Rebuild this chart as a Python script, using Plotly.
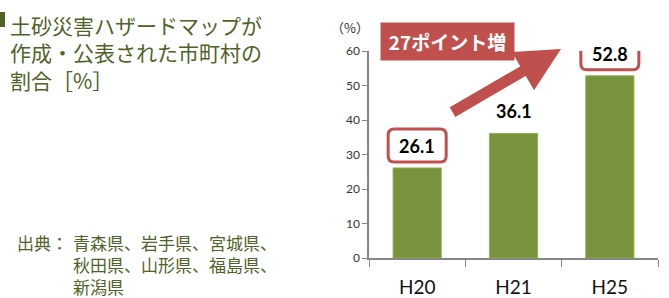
import plotly.graph_objects as go

categories = ["H20", "H21", "H25"]
values = [26.1, 36.1, 52.8]
value_labels = ["26.1", "36.1", "52.8"]
boxed = [True, False, True]
y_ticks = [0, 10, 20, 30, 40, 50, 60]

title_text = "土砂災害ハザードマップが<br>作成・公表された市町村の<br>割合［%］"
source_head = "出典："
source_lines = ["青森県、岩手県、宮城県、", "秋田県、山形県、福島県、", "新潟県"]
increase_text = "27ポイント増"
unit_text = "（%）"

W, H = 669, 298
GREEN = "#77933C"
RED = "#C0504D"
TXT = "#4F6228"

def px(x):
    return x / W

def py(y):
    return 1 - y / H

fig = go.Figure()
fig.add_trace(go.Bar(x=categories, y=values, marker=dict(color=GREEN, line=dict(color="#8FAE55", width=1)),
                     hoverinfo="skip"))

def rounded(x0, x1, y0, y1, r):
    return (f"M{x0+r},{y0} L{x1-r},{y0} Q{x1},{y0} {x1},{y0+r} L{x1},{y1-r} Q{x1},{y1} {x1-r},{y1} "
            f"L{x0+r},{y1} Q{x0},{y1} {x0},{y1-r} L{x0},{y0+r} Q{x0},{y0} {x0+r},{y0} Z")

for c, v, lab, b in zip(categories, values, value_labels, boxed):
    if b:
        fig.add_shape(type="path", xref="x", yref="y", xsizemode="pixel", ysizemode="pixel",
                      xanchor=c, yanchor=v, path=rounded(-29, 29, 6, 39, 6),
                      line=dict(color=RED, width=3), fillcolor="white", layer="above")
    fig.add_annotation(x=c, y=v, xref="x", yref="y", text=f"<b>{lab}</b>", showarrow=False,
                       yshift=22, font=dict(family="Lato", size=18, color="#000000"))

fig.add_annotation(x=px(447.5), y=py(41.5), xref="paper", yref="paper", text=f"<b>{increase_text}</b>",
                   showarrow=False, bgcolor=RED, width=131, height=35, xanchor="center", yanchor="middle",
                   font=dict(family="Noto Sans CJK JP", size=19, color="white"))
fig.add_annotation(x=px(561), y=py(49), xref="paper", yref="paper", text="", showarrow=True,
                   ax=-110, ay=64, axref="pixel", ayref="pixel", arrowcolor=RED, arrowwidth=11,
                   arrowhead=2, arrowsize=0.8, standoff=0)

fig.add_annotation(x=px(350), y=py(28), xref="paper", yref="paper", text=unit_text, showarrow=False,
                   yanchor="middle", font=dict(family="Noto Sans CJK JP", size=13, color="#333333"))

fig.add_shape(type="rect", xref="paper", yref="paper", x0=0, x1=px(5), y0=py(27), y1=py(12),
              fillcolor=TXT, line=dict(width=0))
fig.add_annotation(x=px(8), y=py(8), xref="paper", yref="paper", text=title_text, showarrow=False,
                   xanchor="left", yanchor="top", align="left",
                   font=dict(family="Noto Sans CJK JP", size=21, color=TXT))
fig.add_annotation(x=px(15), y=py(242), xref="paper", yref="paper", text=source_head, showarrow=False,
                   xanchor="left", yanchor="middle", align="left",
                   font=dict(family="Noto Sans CJK JP", size=17, color=TXT))
for i, line in enumerate(source_lines):
    fig.add_annotation(x=px(71), y=py(242 + 22 * i), xref="paper", yref="paper", text=line, showarrow=False,
                       xanchor="left", yanchor="middle", align="left",
                       font=dict(family="Noto Sans CJK JP", size=17, color=TXT))

fig.update_layout(
    width=W, height=H, margin=dict(l=0, r=0, t=0, b=0, pad=0),
    paper_bgcolor="white", plot_bgcolor="white", showlegend=False, bargap=0.5,
    xaxis=dict(domain=[px(369), px(658)], showline=True, linecolor="#868686", linewidth=1.5,
               ticks="outside", tickson="boundaries", ticklen=7, tickcolor="#868686",
               ticklabelstandoff=11, tickfont=dict(family="Lato", size=19, color="#111111"),
               showgrid=False, zeroline=False, automargin=False),
    yaxis=dict(domain=[py(258), py(51)], range=[0, 60], tickvals=y_ticks, showline=True,
               linecolor="#868686", linewidth=1.5, ticks="outside", ticklen=5, tickcolor="#868686",
               tickfont=dict(family="Lato", size=12, color="#333333"), showgrid=False, zeroline=False,
               automargin=False),
)

fig.write_html("out.html", config={"displayModeBar": False},
               post_script="document.body.style.margin='0';document.body.style.padding='0';")
